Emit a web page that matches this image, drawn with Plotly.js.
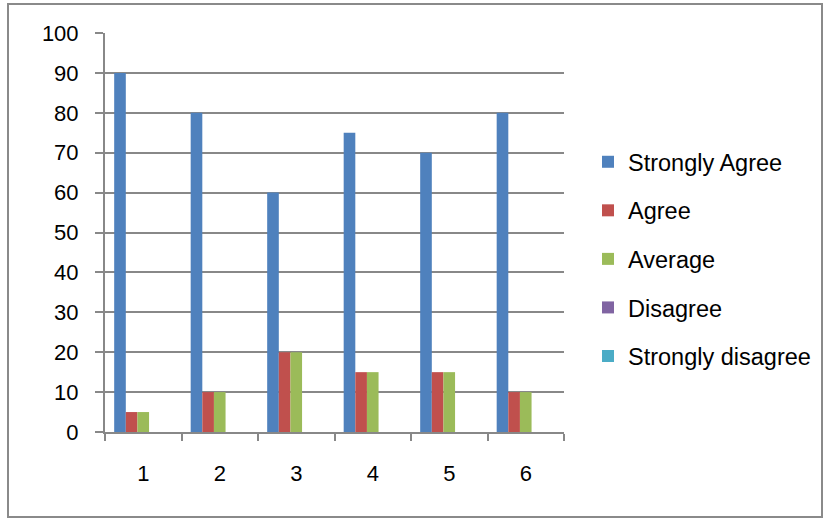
<!DOCTYPE html>
<html>
<head>
<meta charset="utf-8">
<script src="https://cdn.plot.ly/plotly-3.0.1.min.js"></script>
<style>html,body{margin:0;padding:0;background:#fff;}#chart{width:828px;height:520px;}</style>
</head>
<body>
<div id="chart"></div>
<script>
const categories = ['1', '2', '3', '4', '5', '6'];
const stronglyAgree = [90, 80, 60, 75, 70, 80];
const agree = [5, 10, 20, 15, 15, 10];
const average = [5, 10, 20, 15, 15, 10];
const disagree = [0, 0, 0, 0, 0, 0];
const stronglyDisagree = [0, 0, 0, 0, 0, 0];
const seriesNames = ['Strongly Agree', 'Agree', 'Average', 'Disagree', 'Strongly disagree'];
const seriesColors = ['#4F81BD', '#C0504D', '#9BBB59', '#8064A2', '#4BACC6'];
const seriesValues = [stronglyAgree, agree, average, disagree, stronglyDisagree];

const traces = seriesValues.map((vals, i) => ({
  type: 'bar',
  x: categories,
  y: vals,
  name: seriesNames[i],
  legendgroup: 'g' + i,
  marker: {color: seriesColors[i], line: {width: 0}}
}));

const L = 105, R = 564, T = 33, B = 432, W = 828, H = 520;
const px = p => (p - L) / (R - L);
const py = p => (B - p) / (B - T);

const layout = {
  width: W, height: H,
  margin: {l: L, r: W - R, t: T, b: H - B, pad: 0},
  paper_bgcolor: '#fff', plot_bgcolor: '#fff',
  barmode: 'group',
  bargap: 0.24,
  bargroupgap: 0,
  font: {family: 'Liberation Sans, Arial, sans-serif', color: '#000'},
  xaxis: {
    type: 'category',
    tickson: 'boundaries',
    ticks: 'outside', ticklen: 7, tickwidth: 2, tickcolor: '#888',
    showline: true, linecolor: '#888', linewidth: 2,
    showgrid: false,
    tickfont: {size: 22, family: 'Liberation Sans, sans-serif'},
    ticklabelstandoff: 21,
    fixedrange: true
  },
  yaxis: {
    range: [0, 100], dtick: 10,
    ticks: 'outside', ticklen: 8, tickwidth: 2, tickcolor: '#888',
    showline: true, linecolor: '#888', linewidth: 2,
    showgrid: true, gridcolor: '#888', gridwidth: 2,
    zeroline: false,
    tickfont: {size: 22, family: 'Liberation Sans, sans-serif'},
    ticklabelstandoff: 12,
    fixedrange: true
  },
  legend: {
    x: px(588), xanchor: 'left',
    y: py(259), yanchor: 'middle',
    font: {size: 23.5, family: 'Liberation Sans, Arial, sans-serif', color: '#000'},
    tracegroupgap: 15,
    bgcolor: 'rgba(0,0,0,0)'
  },
  shapes: [{
    type: 'rect', xref: 'paper', yref: 'paper',
    x0: px(8), x1: px(822), y0: py(517), y1: py(4),
    line: {color: '#8a8a8a', width: 2}, fillcolor: 'rgba(0,0,0,0)'
  }],
  showlegend: true
};

Plotly.newPlot('chart', traces, layout, {displayModeBar: false, staticPlot: true});
</script>
</body>
</html>
